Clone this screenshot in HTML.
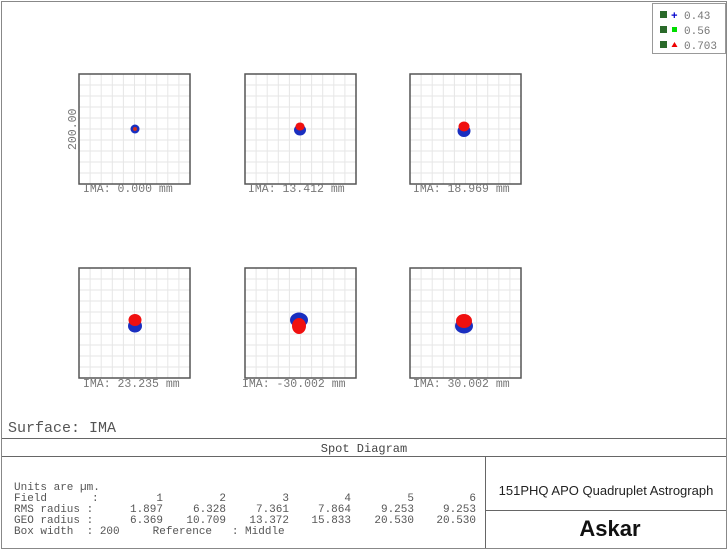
<!DOCTYPE html><html><head><style>body{margin:0;background:#fff}svg{display:block}</style></head><body>
<svg width="728" height="550" xmlns="http://www.w3.org/2000/svg" font-family="Liberation Mono, monospace">
<defs>
<g id="grid" stroke="#e6e6e6" stroke-width="1">
<path d="M11.1 0V110M22.2 0V110M33.3 0V110M44.4 0V110M55.5 0V110M66.6 0V110M77.7 0V110M88.8 0V110M99.9 0V110M0 11H111M0 22H111M0 33H111M0 44H111M0 55H111M0 66H111M0 77H111M0 88H111M0 99H111"/>
</g>
</defs>
<rect x="1.5" y="1.5" width="725" height="547" fill="none" stroke="#888"/>
<use href="#grid" x="79" y="74"/><use href="#grid" x="245" y="74"/><use href="#grid" x="410" y="74"/>
<use href="#grid" x="79" y="268"/><use href="#grid" x="245" y="268"/><use href="#grid" x="410" y="268"/>
<g stroke="#555" stroke-width="1.5" fill="none">
<rect x="79" y="74" width="111" height="110"/>
<rect x="245" y="74" width="111" height="110"/>
<rect x="410" y="74" width="111" height="110"/>
<rect x="79" y="268" width="111" height="110"/>
<rect x="245" y="268" width="111" height="110"/>
<rect x="410" y="268" width="111" height="110"/>
</g>
<g font-size="11.5" fill="#777">
<text x="83" y="192">IMA: 0.000 mm</text>
<text x="248" y="192">IMA: 13.412 mm</text>
<text x="413" y="192">IMA: 18.969 mm</text>
<text x="83" y="387">IMA: 23.235 mm</text>
<text x="242" y="387">IMA: -30.002 mm</text>
<text x="413" y="387">IMA: 30.002 mm</text>
<text transform="translate(76,150) rotate(-90)">200.00</text>
</g>
<circle cx="135" cy="129" r="4.5" fill="#1a2fc0"/><circle cx="135" cy="129" r="2" fill="#d03020"/>
<ellipse cx="300" cy="130" rx="6" ry="5.5" fill="#1a2fc0"/><ellipse cx="300" cy="126.5" rx="4.5" ry="4" fill="#f01010"/>
<ellipse cx="464" cy="131" rx="6.5" ry="6" fill="#1a2fc0"/><ellipse cx="464" cy="126.5" rx="5.5" ry="5" fill="#f01010"/>
<ellipse cx="135" cy="326" rx="7" ry="6.5" fill="#1a2fc0"/><ellipse cx="135" cy="320" rx="6.5" ry="6" fill="#f01010"/>
<ellipse cx="299" cy="320" rx="9" ry="7.5" fill="#1a2fc0"/><ellipse cx="299" cy="326" rx="7" ry="8" fill="#f01010"/>
<ellipse cx="464" cy="326" rx="9" ry="7.5" fill="#1a2fc0"/><ellipse cx="464" cy="321" rx="8" ry="7" fill="#f01010"/>
<rect x="652.5" y="3.5" width="73" height="50" fill="#fff" stroke="#999"/>
<g font-size="11" fill="#777">
<text x="684" y="19">0.43</text><text x="684" y="34">0.56</text><text x="684" y="49">0.703</text>
</g>
<g fill="#2a6a2a"><rect x="660" y="11" width="7" height="7"/><rect x="660" y="26" width="7" height="7"/><rect x="660" y="41" width="7" height="7"/></g>
<text x="671" y="19" font-size="11" fill="#00c" font-weight="bold">+</text>
<rect x="672" y="27" width="5" height="5" fill="#0d0"/>
<path d="M671.5 47L674.5 42L677.5 47Z" fill="#e00"/>
<text x="8" y="432" font-size="15" fill="#555">Surface: IMA</text>
<g stroke="#666" fill="none" stroke-width="1">
<line x1="2" y1="438.5" x2="726" y2="438.5"/>
<line x1="2" y1="456.5" x2="726" y2="456.5"/>
<line x1="485.5" y1="456" x2="485.5" y2="548"/>
<line x1="485" y1="510.5" x2="726" y2="510.5"/>
</g>
<text x="364" y="452" font-size="12" fill="#444" text-anchor="middle">Spot Diagram</text>
<g font-size="11" fill="#555">
<text x="14" y="490">Units are µm.</text>
<text x="14" y="501">Field</text><text x="92" y="501">:</text>
<text x="14" y="512">RMS radius :</text>
<text x="14" y="523">GEO radius :</text>
<text x="14" y="534" style="white-space:pre">Box width  : 200     Reference   : Middle</text>
</g>
<g font-size="11" fill="#555" text-anchor="end">
<text x="163" y="501">1</text><text x="226" y="501">2</text><text x="289" y="501">3</text><text x="351" y="501">4</text><text x="414" y="501">5</text><text x="476" y="501">6</text>
<text x="163" y="512">1.897</text><text x="226" y="512">6.328</text><text x="289" y="512">7.361</text><text x="351" y="512">7.864</text><text x="414" y="512">9.253</text><text x="476" y="512">9.253</text>
<text x="163" y="523">6.369</text><text x="226" y="523">10.709</text><text x="289" y="523">13.372</text><text x="351" y="523">15.833</text><text x="414" y="523">20.530</text><text x="476" y="523">20.530</text>
</g>
<text x="606" y="495" font-family="Liberation Sans, sans-serif" font-size="13" fill="#222" text-anchor="middle">151PHQ APO Quadruplet Astrograph</text>
<text x="610" y="536" font-family="Liberation Sans, sans-serif" font-size="22" font-weight="bold" fill="#111" text-anchor="middle">Askar</text>
</svg>
</body></html>
